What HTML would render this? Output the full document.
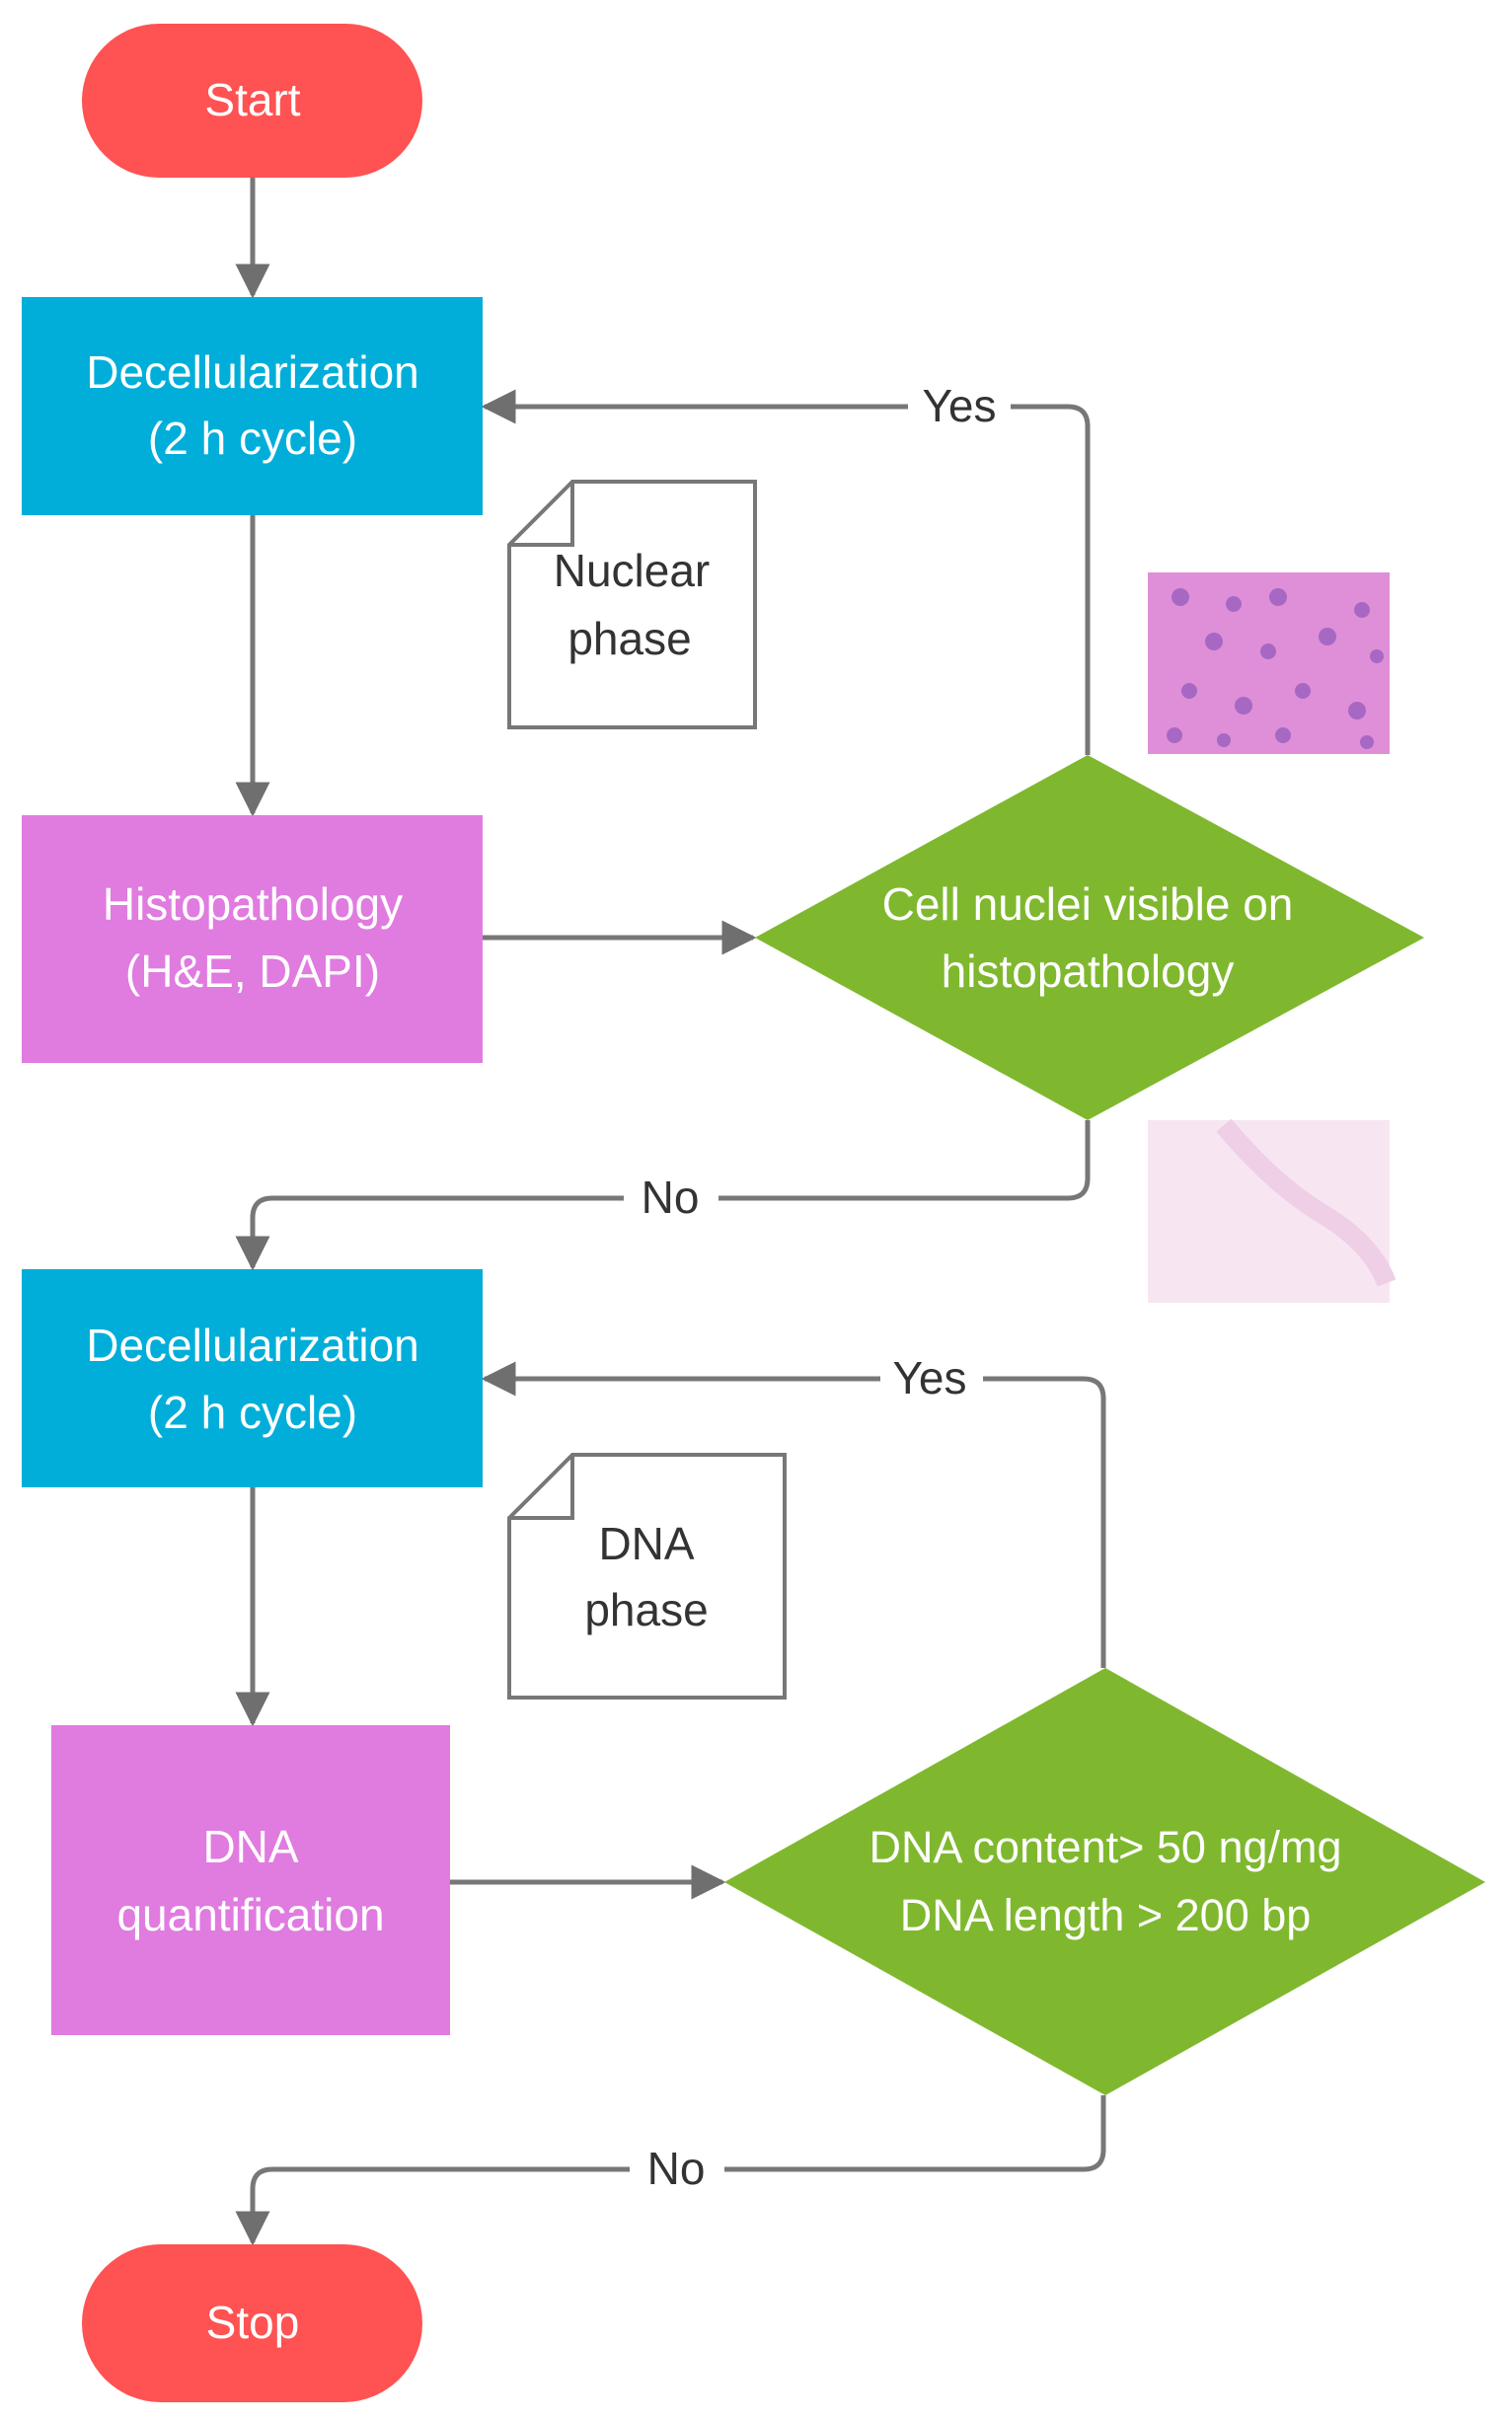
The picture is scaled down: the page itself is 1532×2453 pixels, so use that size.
<!DOCTYPE html>
<html><head><meta charset="utf-8"><style>
html,body{margin:0;padding:0;background:#fff;}
svg{display:block;}
text{font-family:"Liberation Sans",sans-serif;}
</style></head><body>
<svg width="1532" height="2453" viewBox="0 0 1532 2453" xmlns="http://www.w3.org/2000/svg">
<defs>
<marker id="ah" viewBox="0 0 10 10" refX="9" refY="5" markerWidth="7" markerHeight="7" orient="auto" markerUnits="strokeWidth">
<path d="M0,0 L10,5 L0,10 z" fill="#6f6f6f"/></marker>
</defs>
<g fill="none" stroke="#777" stroke-width="5">
<path d="M256,180 V299" marker-end="url(#ah)"/>
<path d="M256,522 V824" marker-end="url(#ah)"/>
<path d="M489,950 H763" marker-end="url(#ah)"/>
<path d="M1102,765 V432 Q1102,412 1082,412 H491" marker-end="url(#ah)"/>
<path d="M1102,1135 V1194 Q1102,1214 1082,1214 H276 Q256,1214 256,1234 V1284" marker-end="url(#ah)"/>
<path d="M256,1507 V1746" marker-end="url(#ah)"/>
<path d="M456,1907 H732" marker-end="url(#ah)"/>
<path d="M1118,1690 V1417 Q1118,1397 1098,1397 H491" marker-end="url(#ah)"/>
<path d="M1118,2123 V2178 Q1118,2198 1098,2198 H276 Q256,2198 256,2218 V2272" marker-end="url(#ah)"/>
</g>
<rect x="920" y="390" width="104" height="44" fill="#fff"/>
<text x="972" y="427" font-size="46" text-anchor="middle" fill="#333">Yes</text>
<rect x="632" y="1192" width="96" height="44" fill="#fff"/>
<text x="679" y="1229" font-size="46" text-anchor="middle" fill="#333">No</text>
<rect x="892" y="1375" width="104" height="44" fill="#fff"/>
<text x="942" y="1412" font-size="46" text-anchor="middle" fill="#333">Yes</text>
<rect x="638" y="2176" width="96" height="44" fill="#fff"/>
<text x="685" y="2213" font-size="46" text-anchor="middle" fill="#333">No</text>

<rect x="83" y="24" width="345" height="156" rx="78" fill="#ff5252"/>
<text x="256" y="117" font-size="46" text-anchor="middle" fill="#fff">Start</text>
<rect x="83" y="2274" width="345" height="160" rx="80" fill="#ff5252"/>
<text x="256" y="2369" font-size="46" text-anchor="middle" fill="#fff">Stop</text>

<rect x="22" y="301" width="467" height="221" fill="#00aed9"/>
<text x="256" y="393" font-size="46" text-anchor="middle" fill="#fff">Decellularization</text>
<text x="256" y="460" font-size="46" text-anchor="middle" fill="#fff">(2 h cycle)</text>
<rect x="22" y="826" width="467" height="251" fill="#e07be0"/>
<text x="256" y="932" font-size="46" text-anchor="middle" fill="#fff">Histopathology</text>
<text x="256" y="1000" font-size="46" text-anchor="middle" fill="#fff">(H&amp;E, DAPI)</text>
<rect x="22" y="1286" width="467" height="221" fill="#00aed9"/>
<text x="256" y="1379" font-size="46" text-anchor="middle" fill="#fff">Decellularization</text>
<text x="256" y="1447" font-size="46" text-anchor="middle" fill="#fff">(2 h cycle)</text>
<rect x="52" y="1748" width="404" height="314" fill="#e07be0"/>
<text x="254" y="1887" font-size="46" text-anchor="middle" fill="#fff">DNA</text>
<text x="254" y="1956" font-size="46" text-anchor="middle" fill="#fff">quantification</text>

<polygon points="1102,765 1443,950 1102,1135 765,950" fill="#7fb82e"/>
<text x="1102" y="932" font-size="46" text-anchor="middle" fill="#fff">Cell nuclei visible on</text>
<text x="1102" y="1000" font-size="46" text-anchor="middle" fill="#fff">histopathology</text>
<polygon points="1120,1690 1505,1907 1120,2123 734,1907" fill="#7fb82e"/>
<text x="1120" y="1887" font-size="45" text-anchor="middle" fill="#fff">DNA content&gt; 50 ng/mg</text>
<text x="1120" y="1956" font-size="45" text-anchor="middle" fill="#fff">DNA length &gt; 200 bp</text>

<g fill="#fff" stroke="#777" stroke-width="4">
<path d="M580,488 H765 V737 H516 V552 Z"/>
<path d="M580,488 V552 H516" fill="none"/>
<path d="M580,1474 H795 V1720 H516 V1538 Z"/>
<path d="M580,1474 V1538 H516" fill="none"/>
</g>
<text x="640" y="594" font-size="46" text-anchor="middle" fill="#333">Nuclear</text>
<text x="638" y="663" font-size="46" text-anchor="middle" fill="#333">phase</text>
<text x="655" y="1580" font-size="46" text-anchor="middle" fill="#333">DNA</text>
<text x="655" y="1647" font-size="46" text-anchor="middle" fill="#333">phase</text>

<rect x="1163" y="580" width="245" height="184" fill="#de8fd8"/>
<g fill="#9a5fbf" opacity="0.8">
<circle cx="1196" cy="605" r="9"/><circle cx="1250" cy="612" r="8"/><circle cx="1295" cy="605" r="9"/><circle cx="1380" cy="618" r="8"/>
<circle cx="1230" cy="650" r="9"/><circle cx="1285" cy="660" r="8"/><circle cx="1345" cy="645" r="9"/><circle cx="1395" cy="665" r="7"/>
<circle cx="1205" cy="700" r="8"/><circle cx="1260" cy="715" r="9"/><circle cx="1320" cy="700" r="8"/><circle cx="1375" cy="720" r="9"/>
<circle cx="1190" cy="745" r="8"/><circle cx="1240" cy="750" r="7"/><circle cx="1300" cy="745" r="8"/><circle cx="1385" cy="752" r="7"/>
</g>
<rect x="1163" y="1135" width="245" height="185" fill="#f7e6f1"/>
<path d="M1240,1140 Q1290,1200 1340,1230 T1405,1300" stroke="#efcfe6" stroke-width="20" fill="none"/>
</svg>
</body></html>
